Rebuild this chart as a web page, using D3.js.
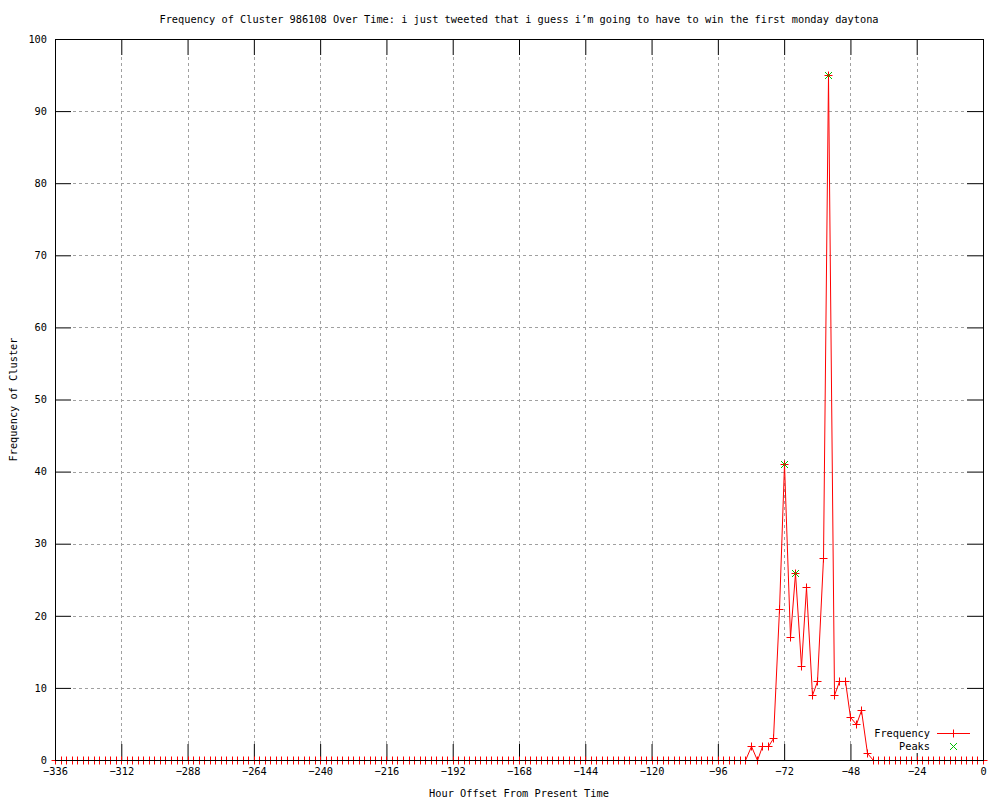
<!DOCTYPE html>
<html>
<head>
<meta charset="utf-8">
<script src="https://cdn.jsdelivr.net/npm/d3@7"></script>
<style>
  body { margin: 0; background: #fff; }
  text { font-family: "DejaVu Sans Mono", "Liberation Mono", monospace; font-size: 10.3px; fill: #000; }
</style>
</head>
<body>
<div id="graph"></div>
<script>
const title = "Frequency of Cluster 986108 Over Time: i just tweeted that i guess i’m going to have to win the first monday daytona";

// hour offsets, one point every 2 hours
const hours = d3.range(-336, 1, 2);

// frequency per 2h bin, -336 .. 0
const frequency = [
  0, 0, 0, 0, 0, 0, 0, 0, 0, 0, 0, 0,   // -336 .. -314
  0, 0, 0, 0, 0, 0, 0, 0, 0, 0, 0, 0,   // -312 .. -290
  0, 0, 0, 0, 0, 0, 0, 0, 0, 0, 0, 0,   // -288 .. -266
  0, 0, 0, 0, 0, 0, 0, 0, 0, 0, 0, 0,   // -264 .. -242
  0, 0, 0, 0, 0, 0, 0, 0, 0, 0, 0, 0,   // -240 .. -218
  0, 0, 0, 0, 0, 0, 0, 0, 0, 0, 0, 0,   // -216 .. -194
  0, 0, 0, 0, 0, 0, 0, 0, 0, 0, 0, 0,   // -192 .. -170
  0, 0, 0, 0, 0, 0, 0, 0, 0, 0, 0, 0,   // -168 .. -146
  0, 0, 0, 0, 0, 0, 0, 0, 0, 0, 0, 0,   // -144 .. -122
  0, 0, 0, 0, 0, 0, 0, 0, 0, 0, 0, 0,   // -120 .. -98
  0, 0, 0, 0, 0, 0, 2, 0, 2, 2, 3, 21,  // -96 .. -74
  41, 17, 26, 13, 24, 9, 11, 28, 95, 9, 11, 11, // -72 .. -50
  6, 5, 7, 1, 0, 0, 0, 0, 0, 0, 0, 0,   // -48 .. -26
  0, 0, 0, 0, 0, 0, 0, 0, 0, 0, 0, 0,   // -24 .. -2
  0                                      // 0
];

// peaks found
const peakHours = [-72, -68, -56];
const peakValues = [41, 26, 95];

const xTicks = d3.range(-336, 1, 24);
const yTicks = d3.range(0, 101, 10);

const svgWidth = 1000;
const svgHeight = 800;
const margin = { top: 39, bottom: 40, left: 55, right: 17 };
const width = svgWidth - margin.left - margin.right;
const height = svgHeight - margin.top - margin.bottom;
const tickLen = 16;

const svg = d3.select('#graph')
  .append('svg')
  .attr('width', svgWidth)
  .attr('height', svgHeight);

const g = svg.append('g')
  .attr('transform', `translate(${margin.left}, ${margin.top})`);

const x = d3.scaleLinear().domain([-336, 0]).range([0, width]);
const y = d3.scaleLinear().domain([0, 100]).range([height, 0]);

// snap to pixel centres so 1px strokes stay sharp
const px = v => Math.round(v) + 0.5;

// grid (dotted, skip the border lines)
g.append('g')
  .selectAll('line')
  .data(xTicks.filter(d => d > -336 && d < 0))
  .enter()
  .append('line')
  .attr('x1', d => px(x(d)))
  .attr('x2', d => px(x(d)))
  .attr('y1', tickLen + 2)
  .attr('y2', height - tickLen)
  .attr('stroke', '#a0a0a0')
  .attr('stroke-dasharray', '3,3');

g.append('g')
  .selectAll('line')
  .data(yTicks.filter(d => d > 0 && d < 100))
  .enter()
  .append('line')
  .attr('y1', d => px(y(d)))
  .attr('y2', d => px(y(d)))
  .attr('x1', tickLen + 2)
  .attr('x2', width - tickLen)
  .attr('stroke', '#a0a0a0')
  .attr('stroke-dasharray', '3,3');

// axes, ticks drawn inward like gnuplot
const xAxis = g.append('g')
  .attr('transform', `translate(0,${height})`)
  .call(d3.axisBottom(x).tickValues(xTicks).tickSizeInner(-tickLen).tickSizeOuter(0).tickPadding(8).tickFormat(d3.format('d')));
const xAxisTop = g.append('g')
  .call(d3.axisTop(x).tickValues(xTicks).tickSizeInner(-tickLen).tickSizeOuter(0).tickFormat(''));
const yAxis = g.append('g')
  .call(d3.axisLeft(y).tickValues(yTicks).tickSizeInner(-tickLen).tickSizeOuter(0).tickPadding(8));
const yAxisRight = g.append('g')
  .attr('transform', `translate(${width},0)`)
  .call(d3.axisRight(y).tickValues(yTicks).tickSizeInner(-tickLen).tickSizeOuter(0).tickFormat(''));

[xAxis, xAxisTop, yAxis, yAxisRight].forEach(a => {
  a.select('.domain').remove();
  a.selectAll('line').attr('stroke', '#000');
  a.selectAll('text')
    .attr('font-family', '"DejaVu Sans Mono", monospace')
    .attr('font-size', '10.3px')
    .attr('fill', '#000');
});
xAxis.selectAll('text').text(d => d < 0 ? '\u2212' + Math.abs(d) : d);

// frequency line
const line = d3.line()
  .x((d, i) => px(x(hours[i])))
  .y(d => px(y(d)));

g.append('path')
  .datum(frequency)
  .attr('fill', 'none')
  .attr('stroke', '#ff0000')
  .attr('stroke-width', 1)
  .attr('d', line);

// + markers
const plus = 'M-4,0H4M0,-4V4';
g.selectAll('.pt')
  .data(frequency)
  .enter()
  .append('path')
  .attr('class', 'pt')
  .attr('transform', (d, i) => `translate(${px(x(hours[i]))},${px(y(d))})`)
  .attr('d', plus)
  .attr('stroke', '#ff0000')
  .attr('fill', 'none');

// peaks as green x
const cross = 'M-3.5,-3.5L3.5,3.5M-3.5,3.5L3.5,-3.5';
g.selectAll('.peak')
  .data(peakValues)
  .enter()
  .append('path')
  .attr('class', 'peak')
  .attr('transform', (d, i) => `translate(${px(x(peakHours[i]))},${px(y(d))})`)
  .attr('d', cross)
  .attr('stroke', '#00c000')
  .attr('fill', 'none');

// border on top of the data
g.append('rect')
  .attr('x', 0.5)
  .attr('y', 0.5)
  .attr('width', width)
  .attr('height', height)
  .attr('fill', 'none')
  .attr('stroke', '#000');

// legend
const legend = svg.append('g');
legend.append('rect')
  .attr('x', 870).attr('y', 727).attr('width', 104).attr('height', 26)
  .attr('fill', '#fff');
legend.append('text')
  .attr('x', 930).attr('y', 733).attr('dy', '0.35em')
  .attr('text-anchor', 'end')
  .text('Frequency');
legend.append('line')
  .attr('x1', 937).attr('x2', 970).attr('y1', 733.5).attr('y2', 733.5)
  .attr('stroke', '#ff0000');
legend.append('path')
  .attr('transform', 'translate(953.5,733.5)')
  .attr('d', plus).attr('stroke', '#ff0000').attr('fill', 'none');
legend.append('text')
  .attr('x', 930).attr('y', 746).attr('dy', '0.35em')
  .attr('text-anchor', 'end')
  .text('Peaks');
legend.append('path')
  .attr('transform', 'translate(953.5,746.5)')
  .attr('d', cross).attr('stroke', '#00c000').attr('fill', 'none');

// titles
svg.append('text')
  .attr('x', margin.left + width / 2)
  .attr('y', 19)
  .attr('dy', '0.35em')
  .attr('text-anchor', 'middle')
  .text(title);

svg.append('text')
  .attr('x', margin.left + width / 2)
  .attr('y', 793)
  .attr('dy', '0.35em')
  .attr('text-anchor', 'middle')
  .text('Hour Offset From Present Time');

svg.append('text')
  .attr('transform', `translate(13,${margin.top + height / 2}) rotate(-90)`)
  .attr('dy', '0.35em')
  .attr('text-anchor', 'middle')
  .text('Frequency of Cluster');
</script>
</body>
</html>
